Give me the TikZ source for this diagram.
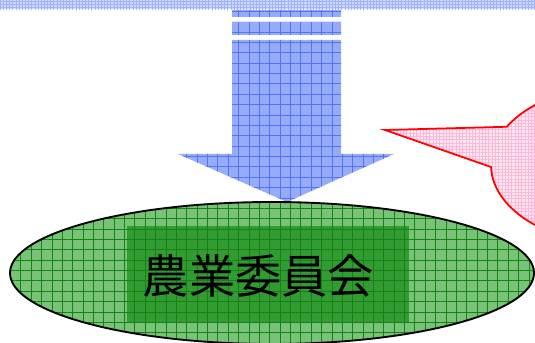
\documentclass[tikz,border=0pt]{standalone}
\usepackage{fontspec}
\newfontfamily\jpfont{Noto Sans CJK JP}
\usetikzlibrary{positioning,shapes.geometric,shapes.callouts,patterns.meta}

\definecolor{bandblue}{RGB}{205,215,255}
\definecolor{bandline}{RGB}{160,178,250}
\definecolor{arrowblue}{RGB}{150,172,250}
\definecolor{arrowline}{RGB}{85,115,240}
\definecolor{greenfill}{RGB}{120,195,120}
\definecolor{darkgreen}{RGB}{50,155,50}
\definecolor{greenline}{RGB}{20,130,20}
\definecolor{pinkfill}{RGB}{255,230,242}
\definecolor{pinkline}{RGB}{250,185,215}

\tikzset{
    gridfill/.style n args={3}{preaction={fill=#1},
        pattern={Hatch[angle=0,distance=#3,line width=0.5pt]},pattern color=#2}
}

\begin{document}
\begin{tikzpicture}[
                x=0.03cm,y=-0.03cm,
                every node/.append style={inner sep=0pt}
            ]
                \useasboundingbox (0,0) rectangle (535,343);
                \clip (0,0) rectangle (535,343);
                % band along the top
                \path[gridfill={bandblue}{bandline}{2.7pt}] (0,0) rectangle (535,9.5);
                % arrow
                \path[gridfill={arrowblue}{arrowline}{8.85pt}]
                    (232,10) rectangle (341,17)
                    (232,22) rectangle (341,35)
                    (232,40) -- (341,40) -- (341,154) -- (394,154)
                    -- (287,202) -- (178,154) -- (232,154) -- cycle;
                \node (iinkai) [ellipse,draw,line width=1.6pt,
                    minimum width=15.72cm,minimum height=4.26cm,
                    gridfill={greenfill}{greenline}{8.85pt}] at (272,273) {};
                \node (waku) [rectangle,minimum width=8.46cm,minimum height=2.91cm,
                    gridfill={darkgreen}{greenline}{8.85pt}] at (268,274.5) {};
                \node (meisho) [font=\jpfont\fontsize{39.5}{39.5}\selectfont] at (258.5,276) {農業委員会};
                \node (fukidashi) [ellipse callout,draw=red,line width=1.5pt,
                    minimum width=7.8cm,minimum height=4.8cm,
                    callout absolute pointer={(385,130)},callout pointer arc=30,
                    gridfill={pinkfill}{pinkline}{2.8pt}] at (621,165) {};
            \end{tikzpicture}
\end{document}
